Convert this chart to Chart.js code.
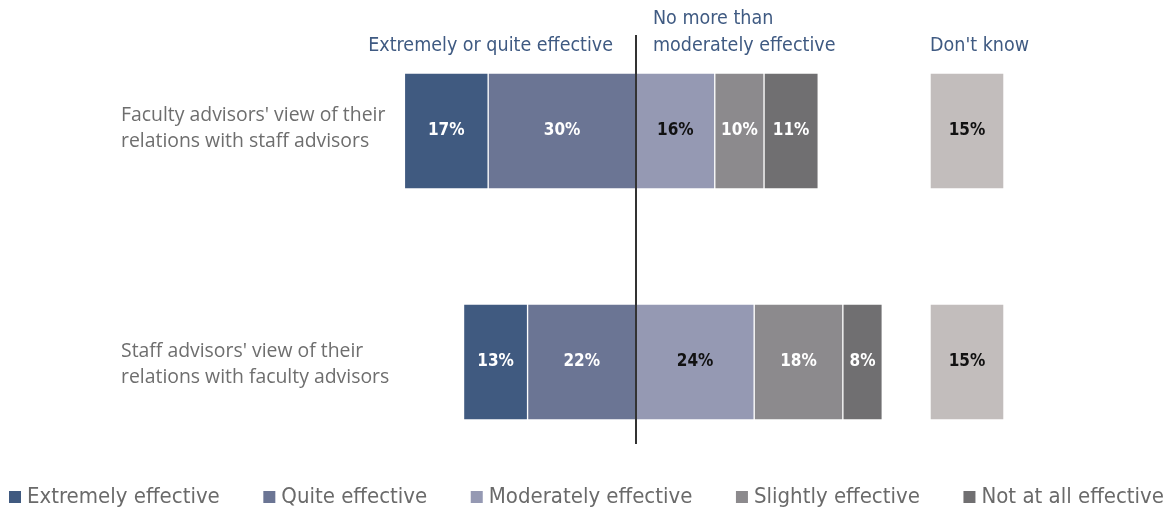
<!DOCTYPE html>
<html>
<head>
<meta charset="utf-8">
<script src="https://cdn.jsdelivr.net/npm/chart.js@4/dist/chart.umd.min.js"></script>
<style>
  html, body { margin: 0; padding: 0; background: #fff; }
  #wrap { width: 1168px; height: 510px; position: relative; }
</style>
</head>
<body>
<div id="wrap"><canvas id="c"></canvas></div>
<script>
// ---- data ----
const categories = [
  ["Faculty advisors' view of their", "relations with staff advisors"],
  ["Staff advisors' view of their", "relations with faculty advisors"]
];
const seriesNames = ["Extremely effective", "Quite effective", "Moderately effective", "Slightly effective", "Not at all effective", "Don't know"];
const extremely = [17, 13];
const quite = [30, 22];
const moderately = [16, 24];
const slightly = [10, 18];
const notAtAll = [11, 8];
const dontKnow = [15, 15];
const groupHeaders = ["Extremely or quite effective", ["No more than", "moderately effective"], "Don't know"];

// ---- layout / style constants ----
const DK_START = 59.7;
const colors = ["#405a80", "#6b7594", "#9599b3", "#8c8a8d", "#706f71", "#c2bdbc"];
const labelColors = ["#ffffff", "#ffffff", "#111111", "#ffffff", "#ffffff", "#111111"];
const FONT = "'DejaVu Sans Condensed', 'DejaVu Sans', sans-serif";
const catLabelOffsets = [[-16, 10], [-11, 15]];

// floating ranges built from values
const rExtremely = extremely.map((v, i) => [-(v + quite[i]), -quite[i]]);
const rQuite = quite.map(v => [-v, 0]);
const rModerately = moderately.map(v => [0, v]);
const rSlightly = slightly.map((v, i) => [moderately[i], moderately[i] + v]);
const rNotAtAll = notAtAll.map((v, i) => [moderately[i] + slightly[i], moderately[i] + slightly[i] + v]);
const rDontKnow = dontKnow.map(v => [DK_START, DK_START + v]);
const rawValues = [extremely, quite, moderately, slightly, notAtAll, dontKnow];
const ranges = [rExtremely, rQuite, rModerately, rSlightly, rNotAtAll, rDontKnow];

const datasets = ranges.map((r, i) => ({
  label: seriesNames[i],
  data: r,
  backgroundColor: colors[i],
  borderColor: 'rgba(255,255,255,0.35)',
  borderWidth: 1,
  borderSkipped: false,
  grouped: false,
  clip: false,
  barThickness: 116
}));

const overlay = {
  id: 'overlay',
  afterDatasetsDraw(chart) {
    const ctx = chart.ctx;
    const xs = chart.scales.x, ys = chart.scales.y;
    ctx.save();
    // value labels
    ctx.font = "bold 17px " + FONT;
    ctx.textAlign = 'center';
    ctx.textBaseline = 'middle';
    chart.data.datasets.forEach((ds, di) => {
      const meta = chart.getDatasetMeta(di);
      meta.data.forEach((el, j) => {
        ctx.fillStyle = labelColors[di];
        ctx.fillText(rawValues[di][j] + '%', (el.x + el.base) / 2, el.y);
      });
    });
    // center line
    const x0 = Math.round(xs.getPixelForValue(0));
    ctx.strokeStyle = '#333333';
    ctx.lineWidth = 2;
    ctx.beginPath();
    ctx.moveTo(x0, 35);
    ctx.lineTo(x0, 444);
    ctx.stroke();
    // headers
    ctx.fillStyle = '#3f5a82';
    ctx.font = "19.5px " + FONT;
    ctx.textAlign = 'right';
    ctx.fillText(groupHeaders[0], x0 - 23, 46);
    ctx.textAlign = 'left';
    ctx.fillText(groupHeaders[1][0], x0 + 17, 19);
    ctx.fillText(groupHeaders[1][1], x0 + 17, 46);
    ctx.fillText(groupHeaders[2], xs.getPixelForValue(DK_START), 46);
    // category labels
    ctx.fillStyle = '#6e6e6e';
    ctx.font = "19.4px 'Open Sans', sans-serif";
    categories.forEach((lines, i) => {
      const cy = ys.getPixelForValue(i);
      lines.forEach((t, k) => ctx.fillText(t, 121, cy + catLabelOffsets[i][k]));
    });
    // legend (justified across the width)
    const items = chart.data.datasets.slice(0, 5);
    ctx.font = "22px " + FONT;
    const box = 12, gap = 6, left = 9, right = 1164, ly = 497;
    const widths = items.map(d => box + gap + ctx.measureText(d.label).width);
    const total = widths.reduce((a, b) => a + b, 0);
    const space = (right - left - total) / (items.length - 1);
    let x = left;
    items.forEach((d, i) => {
      ctx.fillStyle = d.backgroundColor;
      ctx.fillRect(x, ly - 6, box, box);
      ctx.fillStyle = '#6a6a6a';
      ctx.textAlign = 'left';
      ctx.fillText(d.label, x + box + gap, ly);
      x += widths[i] + space;
    });
    ctx.restore();
  }
};

new Chart(document.getElementById('c'), {
  type: 'bar',
  data: { labels: categories.map(l => l.join(' ')), datasets },
  options: {
    indexAxis: 'y',
    responsive: true,
    maintainAspectRatio: false,
    animation: false,
    layout: { padding: { top: 15.5, bottom: 32.5, left: 0, right: 0 } },
    scales: {
      x: { display: false, min: -55, max: 108 },
      y: {
        display: true,
        ticks: { display: false },
        grid: { display: false },
        border: { display: false },
        afterFit(s) { s.width = 365; }
      }
    },
    plugins: {
      tooltip: { enabled: false },
      legend: { display: false }
    }
  },
  plugins: [overlay]
});
</script>
</body>
</html>
